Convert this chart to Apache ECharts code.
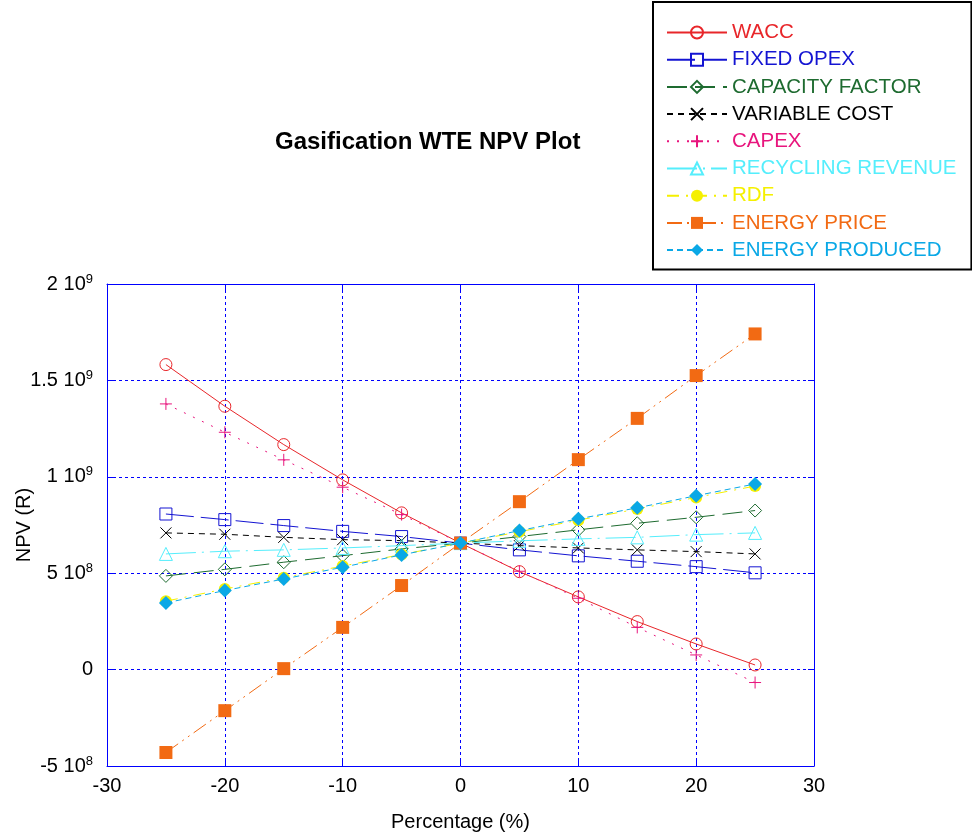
<!DOCTYPE html>
<html>
<head>
<meta charset="utf-8">
<script src="https://cdn.jsdelivr.net/npm/echarts@6/dist/echarts.min.js"></script>
<style>
html,body{margin:0;padding:0;background:#fff;}
#chart{width:972px;height:836px;}
</style>
</head>
<body>
<div id="chart"></div>
<script>
// ---- data ----
const percent = [-25, -20, -15, -10, -5, 0, 5, 10, 15, 20, 25];
const wacc           = [1582e6, 1366e6, 1167e6, 984e6, 813e6, 656e6, 508e6, 377e6, 249e6, 133e6, 24e6];
const fixedOpex      = [807e6, 778e6, 747e6, 717e6, 690e6, 656e6, 621e6, 590e6, 562e6, 534e6, 502e6];
const capacityFactor = [486e6, 520e6, 557e6, 591e6, 626e6, 656e6, 690e6, 725e6, 759e6, 790e6, 825e6];
const variableCost   = [709e6, 702e6, 686e6, 674e6, 669e6, 656e6, 643e6, 631e6, 621e6, 612e6, 600e6];
const capex          = [1378e6, 1231e6, 1088e6, 946e6, 804e6, 656e6, 510e6, 370e6, 219e6, 76e6, -67e6];
const recycling      = [600e6, 614e6, 621e6, 631e6, 643e6, 656e6, 668e6, 678e6, 686e6, 700e6, 709e6];
const rdf            = [355e6, 418e6, 477e6, 537e6, 597e6, 656e6, 715e6, 775e6, 833e6, 893e6, 952e6];
const energyPrice    = [-430e6, -213e6, 5e6, 219e6, 436e6, 656e6, 871e6, 1089e6, 1303e6, 1525e6, 1741e6];
const energyProduced = [346e6, 410e6, 470e6, 531e6, 595e6, 656e6, 721e6, 782e6, 839e6, 902e6, 963e6];

const seriesNames = ['WACC', 'FIXED OPEX', 'CAPACITY FACTOR', 'VARIABLE COST', 'CAPEX',
  'RECYCLING REVENUE', 'RDF', 'ENERGY PRICE', 'ENERGY PRODUCED'];

const yTickValues = [-5e8, 0, 5e8, 1e9, 1.5e9, 2e9];
const yTickLabels = ['-5 10^8', '0', '5 10^8', '1 10^9', '1.5 10^9', '2 10^9'];
const xTickValues = [-30, -20, -10, 0, 10, 20, 30];

// ---- styling ----
const FONT = '"Liberation Sans", Arial, sans-serif';
const colors = ['#e8262a', '#1414d2', '#1e6b30', '#000000', '#e8157d',
  '#55eefc', '#f5f000', '#f26a13', '#0aa8e6'];
const dashes = ['solid', [28, 7], [20, 8], [6, 5], [2, 8], [30, 6, 2, 6], [12, 7, 2, 7], [15, 5, 2, 5, 2, 5], [6, 4]];
const X_PATH = 'path://M0,0L10,10M10,0L0,10';
const PLUS_PATH = 'path://M5,0L5,10M0,5L10,5';
const symbols = ['circle', 'rect', 'diamond', X_PATH, PLUS_PATH, 'triangle', 'circle', 'rect', 'diamond'];
const hollow = [true, true, true, true, true, true, false, false, false];
const sizes = [12, 12, 13, 11, 12, 13, 12, 13, 14];
const datasets = [wacc, fixedOpex, capacityFactor, variableCost, capex, recycling, rdf, energyPrice, energyProduced];

const series = seriesNames.map((name, i) => ({
  name: name,
  type: 'line',
  data: percent.map((p, k) => [p, datasets[i][k]]),
  symbol: symbols[i],
  symbolSize: sizes[i],
  showAllSymbol: true,
  lineStyle: { color: colors[i], width: 1, type: dashes[i] },
  itemStyle: hollow[i]
    ? { color: 'rgba(0,0,0,0)', borderColor: colors[i], borderWidth: 1 }
    : { color: colors[i], borderColor: colors[i], borderWidth: 0 },
  emphasis: { disabled: true },
  z: 2 + i
}));

function yLabel(v) {
  const idx = yTickValues.findIndex(t => Math.abs(t - v) < 1);
  if (idx < 0) return '';
  const parts = yTickLabels[idx].split('^');
  return parts.length > 1 ? '{b|' + parts[0] + '}{s|' + parts[1] + '}' : '{b|' + parts[0] + '}';
}

const gridBlue = '#0000ff';

const option = {
  animation: false,
  backgroundColor: '#ffffff',
  title: {
    text: 'Gasification WTE NPV Plot',
    left: 270, top: 125,
    textStyle: { fontFamily: FONT, fontSize: 24, fontWeight: 'bold', color: '#000' }
  },
  legend: {
    orient: 'vertical',
    left: 653, top: 2,
    padding: [20, 15, 9, 13],
    itemWidth: 60, itemHeight: 15, itemGap: 6.2,
    borderColor: '#000', borderWidth: 2, backgroundColor: '#fff',
    selectedMode: false,
    data: seriesNames.map((n, i) => ({ name: n, textStyle: { color: colors[i] } })),
    textStyle: { fontFamily: FONT, fontSize: 20.5, lineHeight: 20 }
  },
  grid: { left: 107, right: 158, top: 284, bottom: 70, containLabel: false, outerBoundsMode: 'none' },
  xAxis: [{
    type: 'value', min: -30, max: 30, interval: 10, position: 'bottom',
    name: 'Percentage (%)', nameLocation: 'middle', nameGap: 46,
    nameTextStyle: { fontFamily: FONT, fontSize: 20, color: '#000' },
    axisLine: { show: true, onZero: false, lineStyle: { color: gridBlue, width: 1 } },
    axisTick: { show: true, inside: true, length: 6, lineStyle: { color: gridBlue } },
    axisLabel: { fontFamily: FONT, fontSize: 20, color: '#000', margin: 10,
      formatter: v => (xTickValues.indexOf(v) >= 0 ? String(v) : '') },
    splitLine: { show: true, lineStyle: { color: gridBlue, type: [3, 3], width: 1 } }
  }, {
    type: 'value', min: -30, max: 30, interval: 10, position: 'top',
    axisLine: { show: true, onZero: false, lineStyle: { color: gridBlue, width: 1 } },
    axisTick: { show: true, inside: true, length: 6, lineStyle: { color: gridBlue } },
    axisLabel: { show: false }, splitLine: { show: false }
  }],
  yAxis: [{
    type: 'value', min: -5e8, max: 2e9, interval: 5e8, position: 'left',
    name: 'NPV (R)', nameLocation: 'middle', nameGap: 73, nameRotate: 90,
    nameMoveOverlap: false,
    nameTextStyle: { fontFamily: FONT, fontSize: 20, color: '#000' },
    axisLine: { show: true, onZero: false, lineStyle: { color: gridBlue, width: 1 } },
    axisTick: { show: true, inside: true, length: 6, lineStyle: { color: gridBlue } },
    axisLabel: {
      margin: 14, formatter: yLabel,
      rich: {
        b: { fontFamily: FONT, fontSize: 20, color: '#000', lineHeight: 20 },
        s: { fontFamily: FONT, fontSize: 13, color: '#000', lineHeight: 13, padding: [0, 0, 10, 0] }
      }
    },
    splitLine: { show: true, lineStyle: { color: gridBlue, type: [3, 3], width: 1 } }
  }, {
    type: 'value', min: -5e8, max: 2e9, interval: 5e8, position: 'right',
    axisLine: { show: true, onZero: false, lineStyle: { color: gridBlue, width: 1 } },
    axisTick: { show: true, inside: true, length: 6, lineStyle: { color: gridBlue } },
    axisLabel: { show: false }, splitLine: { show: false }
  }],
  series: series
};

const chart = echarts.init(document.getElementById('chart'), null, { renderer: 'canvas' });
chart.setOption(option);
</script>
</body>
</html>
